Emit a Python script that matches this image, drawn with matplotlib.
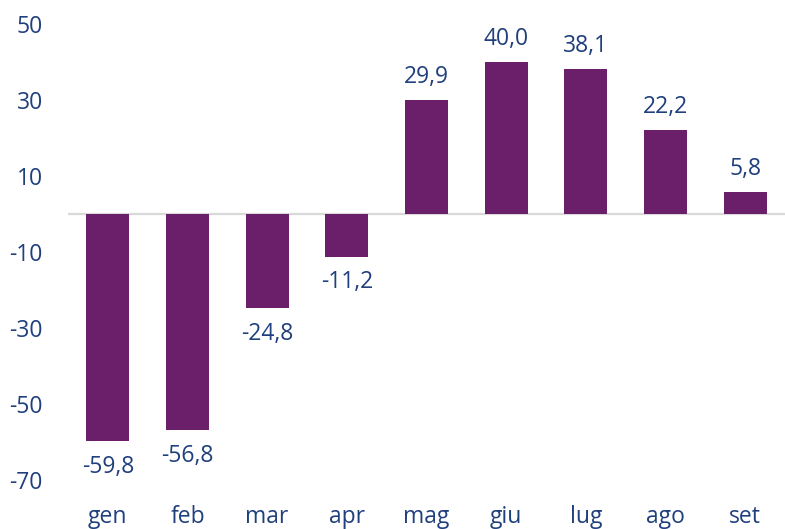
import matplotlib.pyplot as plt

months = ['gen', 'feb', 'mar', 'apr', 'mag', 'giu', 'lug', 'ago', 'set']
values = [-59.8, -56.8, -24.8, -11.2, 29.9, 40.0, 38.1, 22.2, 5.8]
yticks = [50, 30, 10, -10, -30, -50, -70]

bar_color = '#6B1F6A'
text_color = '#203F7D'

plt.rcParams['font.family'] = ['Open Sans', 'DejaVu Sans']
plt.rcParams['axes.unicode_minus'] = False

fig = plt.figure(figsize=(7.85, 5.29), dpi=100)
ax = fig.add_axes([68 / 785, 1 - 480 / 529, 717 / 785, (480 - 24) / 529])

x = range(len(months))
ax.bar(x, values, width=0.54, color=bar_color, zorder=2)
ax.axhline(0, color='#D9D9D9', lw=1.6, zorder=1)

# value labels, comma as decimal separator
for xi, v in zip(x, values):
    lbl = f'{v:.1f}'.replace('.', ',')
    off = 8 if v >= 0 else -10
    ax.annotate(lbl, (xi, v), xytext=(0, off), textcoords='offset points',
                ha='center', va='bottom' if v >= 0 else 'top',
                fontsize=16.5, color=text_color)

ax.set_xlim(-0.5, len(months) - 0.5)
ax.set_ylim(-70, 50)
ax.set_xticks(list(x))
ax.set_xticklabels(months)
ax.set_yticks(yticks)
ax.tick_params(axis='both', length=0, labelsize=16.5, labelcolor=text_color)
ax.tick_params(axis='x', pad=18)
ax.tick_params(axis='y', pad=18)
for s in ax.spines.values():
    s.set_visible(False)

fig.savefig('out.png', dpi=100)
